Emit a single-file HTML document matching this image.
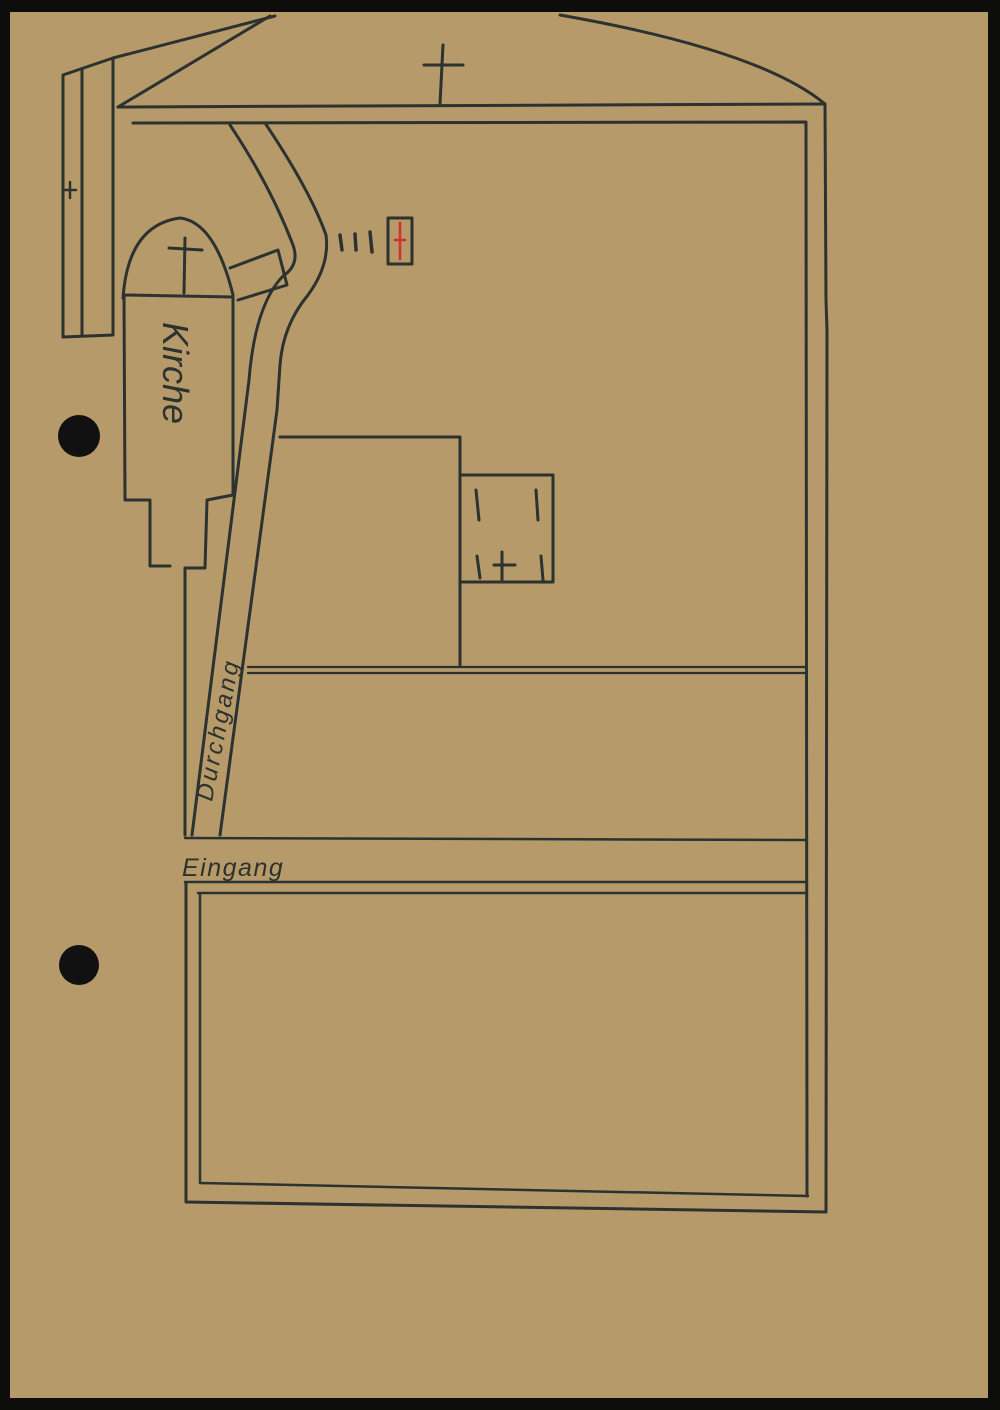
<!DOCTYPE html>
<html><head><meta charset="utf-8"><style>
html,body{margin:0;padding:0;width:1000px;height:1410px;overflow:hidden;background:#0c0c0a}
svg{display:block}
</style></head><body>
<svg width="1000" height="1410" viewBox="0 0 1000 1410" xmlns="http://www.w3.org/2000/svg">
<rect x="0" y="0" width="1000" height="1410" fill="#0d0d0b"/>
<rect x="10" y="12" width="978" height="1386" fill="#b69a6a"/>
<circle cx="79" cy="436" r="21" fill="#111"/>
<circle cx="79" cy="965" r="20" fill="#111"/>
<g fill="none" stroke="#2c3230" stroke-width="3" stroke-linecap="round" stroke-linejoin="round">
<path d="M63,337 L63,75 L113,58 L275,16"/>
<path d="M82,335 L82,70"/>
<path d="M113,58 L113,335 L63,337"/>
<path d="M118,107 L270,16"/>
<path d="M64,190 L76,190 M70,182 L70,198" stroke-width="2.5"/>
<path d="M118,107 L825,104"/>
<path d="M560,15 Q760,50 825,104"/>
<path d="M443,45 L440,104 M424,65 L463,65"/>
<path d="M825,104 L826,300 L827,330 L826,1212 L186,1202 L186,883"/>
<path d="M133,123 L806,122 L807,1196"/>
<path d="M123,298 Q128,225 180,218 Q215,222 233,295"/>
<path d="M124,295 L233,297"/>
<path d="M124,295 L125,500 L150,500 L150,566 L170,566"/>
<path d="M185,568 L205,568 L207,500 L233,495 L233,298"/>
<path d="M185,238 L184,293 M169,248 L202,250"/>
<path d="M185,568 L185,835"/>
<path d="M230,125 Q270,185 293,245 Q300,265 283,276 Q255,305 249,380 L192,835"/>
<path d="M265,123 Q310,190 326,235 Q330,265 308,295 Q283,325 280,365 L277,410 L220,835"/>
<path d="M230,268 L278,250 L287,285 L238,300"/>
<path d="M388,218 L412,218 L412,264 L388,264 Z"/>
<path d="M340,235 L342,250 M355,234 L356,250 M370,232 L372,252" stroke-width="3.5"/>
<path d="M280,437 L460,437 L460,665"/>
<path d="M462,475 L553,475 L553,582 L462,582"/>
<path d="M476,490 L479,520 M536,490 L538,520 M477,556 L480,578 M541,556 L543,580 M494,565 L515,565 M502,552 L502,582"/>
<path d="M248,667 L805,667 M248,673 L805,673" stroke-width="2.2"/>
<path d="M185,838 L807,840 M185,882 L807,882" stroke-width="2.5"/>
<path d="M200,893 L200,1183 L808,1196 M198,893 L807,893" stroke-width="2.5"/>
</g>
<path d="M400,222 L400,260 M394,240 L406,240" stroke="#d03030" stroke-width="2.5"/>
<g font-family="'Liberation Sans',sans-serif" fill="#2c3230" font-style="italic">
<text transform="translate(163,322) rotate(90)" font-size="36">Kirche</text>
<text transform="translate(212,802) rotate(-79)" font-size="24" letter-spacing="3">Durchgang</text>
<text x="182" y="876" font-size="25" letter-spacing="1.5">Eingang</text>
</g>
</svg>
</body></html>
